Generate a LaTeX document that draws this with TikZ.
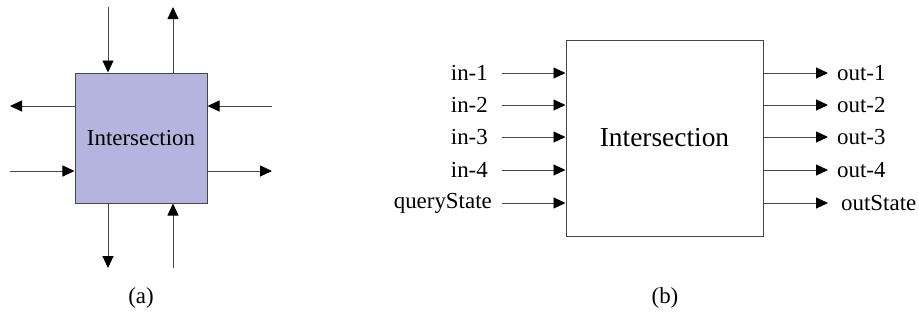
\documentclass[tikz,border=0pt]{standalone}
\usepackage{fontspec}
\setmainfont{Liberation Serif}
\usetikzlibrary{arrows.meta}
\definecolor{lav}{RGB}{180,180,222}
\definecolor{ln}{RGB}{70,70,70}
\tikzset{
  arr/.style={draw=ln, line width=0.9bp, -{Triangle[length=12bp,width=11bp,fill=black,color=black]}},
  lbl/.style={inner sep=0pt, font=\fontsize{23}{23}\selectfont},
}
\begin{document}
\begin{tikzpicture}[x=1bp,y=-1bp]
\useasboundingbox (0,0) rectangle (919,324);
% (a)
\node[draw=ln, line width=1bp, fill=lav, minimum width=132bp, minimum height=130bp, inner sep=0pt, font=\fontsize{23}{23}\selectfont] (A) at (141,138) {Intersection};
\coordinate (tin) at (108,7);
\coordinate (tout) at (173,7);
\coordinate (lout) at (10,106);
\coordinate (rin) at (272,106);
\coordinate (lin) at (10,171);
\coordinate (rout) at (272,171);
\coordinate (bout) at (108,268);
\coordinate (bin) at (173,268);
\draw[arr] (tin) -- (tin |- A.north);
\draw[arr] (tout |- A.north) -- (tout);
\draw[arr] (lout -| A.west) -- (lout);
\draw[arr] (rin) -- (rin -| A.east);
\draw[arr] (lin) -- (lin -| A.west);
\draw[arr] (rout -| A.east) -- (rout);
\draw[arr] (bout |- A.south) -- (bout);
\draw[arr] (bin) -- (bin |- A.south);
\node[lbl] (la) at (141,298) {(a)};
% (b)
\node[draw=ln, line width=1bp, minimum width=197bp, minimum height=196bp, inner sep=0pt, font=\fontsize{27.5}{27.5}\selectfont] (B) at (664.5,138) {Intersection};
\foreach \n/\t/\y in {1/in-1/73, 2/in-2/105, 3/in-3/137, 4/in-4/170}{
  \node[lbl, anchor=east] (in\n) at (488,\y) {\t};
  \coordinate (ic\n) at (502,\y);
  \draw[arr] (ic\n) -- (ic\n -| B.west);
}
\node[lbl, anchor=east] (in5) at (492,203) {queryState};
\coordinate (ic5) at (502,203);
\draw[arr] (ic5) -- (ic5 -| B.west);
\foreach \n/\t/\y in {1/out-1/73, 2/out-2/105, 3/out-3/137, 4/out-4/170}{
  \node[lbl, anchor=west] (out\n) at (837,\y) {\t};
  \coordinate (oc\n) at (828,\y);
  \draw[arr] (oc\n -| B.east) -- (oc\n);
}
\node[lbl, anchor=west] (out5) at (841,203) {outState};
\coordinate (oc5) at (828,203);
\draw[arr] (oc5 -| B.east) -- (oc5);
\node[lbl] (lb) at (665,298) {(b)};
\end{tikzpicture}
\end{document}
